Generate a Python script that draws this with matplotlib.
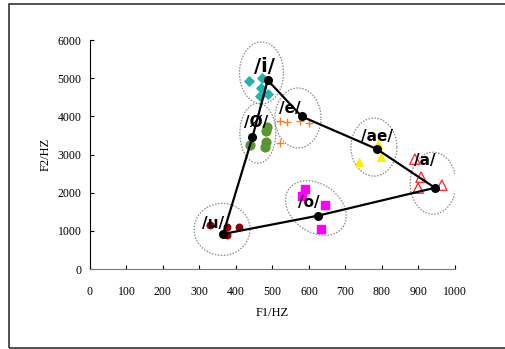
import numpy as np
import matplotlib
matplotlib.use("Agg")
import matplotlib.pyplot as plt
from matplotlib.patches import Rectangle

# vowel means (F1, F2) in Hz, joined in this order
mean_labels = ["/u/", "/Ø/", "/i/", "/e/", "/ae/", "/a/", "/o/"]
mean_f1 = [365, 445, 487, 580, 785, 945, 625]
mean_f2 = [920, 3450, 4950, 4000, 3150, 2130, 1400]

# individual tokens
i_f1 = [436, 471, 468, 488, 466]
i_f2 = [4925, 5004, 4742, 4585, 4532]
oe_f1 = [485, 482, 438, 482, 479]
oe_f2 = [3720, 3615, 3249, 3327, 3196]
e_f1 = [521, 540, 575, 600, 521]
e_f2 = [3877, 3851, 3870, 3825, 3301]
ae_f1 = [737, 797, 789]
ae_f2 = [2803, 2934, 3275]
a_f1 = [890, 907, 899, 964]
a_f2 = [2882, 2410, 2122, 2200]
o_f1 = [589, 581, 644, 633]
o_f2 = [2096, 1912, 1677, 1048]
u_f1 = [329, 375, 408, 375]
u_f2 = [1153, 1100, 1100, 891]

# label anchor positions (Hz)
label_f1 = [337, 455, 477, 548, 786, 918, 600]
label_f2 = [1205, 3851, 5318, 4218, 3484, 2856, 1755]

# grouping ellipses: centre (Hz), semi-axes in px, angle in degrees
ell_f1 = [362, 460, 470, 570, 778, 940, 619]
ell_f2 = [1040, 3560, 5140, 3960, 3196, 2250, 1600]
ell_a = [28, 18, 22, 23, 23, 23, 33]
ell_b = [26, 30, 31, 30, 29, 31, 24]
ell_ang = [0, 0, 0, 0, 0, 0, -35]

fig = plt.figure(figsize=(5.05, 3.49), dpi=100)
ax = fig.add_axes([0.178, 0.229, 0.723, 0.656])

# frame around the whole figure
fig.patches.append(Rectangle((9 / 505, 1 / 349), 1.2, 1 - 5 / 349,
                             transform=fig.transFigure, fill=False,
                             edgecolor="#333333", linewidth=1.2))

ax.set_xlim(0, 1000)
ax.set_ylim(0, 6000)

# ellipses drawn in pixel shape, converted back to data units
sx = ax.bbox.width / 1000.0
sy = ax.bbox.height / 6000.0
t = np.linspace(0, 2 * np.pi, 200)
for cx, cy, a, b, ang in zip(ell_f1, ell_f2, ell_a, ell_b, ell_ang):
    th = np.deg2rad(ang)
    dx = a * np.cos(t) * np.cos(th) - b * np.sin(t) * np.sin(th)
    dy = a * np.cos(t) * np.sin(th) + b * np.sin(t) * np.cos(th)
    ax.plot(cx + dx / sx, cy + dy / sy, linestyle=(0, (1.2, 1.2)),
            color="#8a8a8a", linewidth=0.9, zorder=1)

ax.scatter(i_f1, i_f2, marker="D", s=22, color="#1fb3b3", zorder=3)
ax.scatter(oe_f1, oe_f2, marker="o", s=40, color="#4e9a3a",
           edgecolor="#6b8e23", zorder=3)
ax.scatter(e_f1, e_f2, marker="+", s=30, color="#ff7f1a", linewidths=1, zorder=3)
ax.scatter(ae_f1, ae_f2, marker="^", s=30, color="#ffee00", zorder=3)
ax.scatter(a_f1, a_f2, marker="^", s=55, facecolor="none",
           edgecolor="#ff2020", linewidths=0.9, zorder=3)
ax.scatter(o_f1, o_f2, marker="s", s=28, color="#ff00ff", zorder=3)
ax.scatter(u_f1, u_f2, marker="o", s=22, color="#8b0000", zorder=3)

# polygon through the means
ax.plot(mean_f1 + mean_f1[:1], mean_f2 + mean_f2[:1], color="black",
        linewidth=1.6, zorder=4)
ax.scatter(mean_f1, mean_f2, s=30, color="black", zorder=5)

for lab, x, y in zip(mean_labels, label_f1, label_f2):
    size = 14 if lab == "/i/" else 11
    ax.text(x, y, lab, ha="center", va="center", fontsize=size,
            family="DejaVu Sans", fontweight="bold", zorder=6)

ax.set_xticks(np.arange(0, 1001, 100))
ax.set_yticks(np.arange(0, 6001, 1000))
ax.tick_params(direction="in", length=3, width=0.8, labelsize=8.5)
ax.tick_params(axis="x", pad=12)
ax.tick_params(axis="y", pad=6)
for lbl in ax.get_xticklabels() + ax.get_yticklabels():
    lbl.set_family("Liberation Serif")
ax.spines["top"].set_visible(False)
ax.spines["right"].set_visible(False)
ax.spines["bottom"].set_color("#777777")
ax.set_xlabel("F1/HZ", family="Liberation Serif", fontsize=9, labelpad=7)
ax.set_ylabel("F2/HZ", family="Liberation Serif", fontsize=9, labelpad=4)

fig.savefig("out.png", dpi=100)
